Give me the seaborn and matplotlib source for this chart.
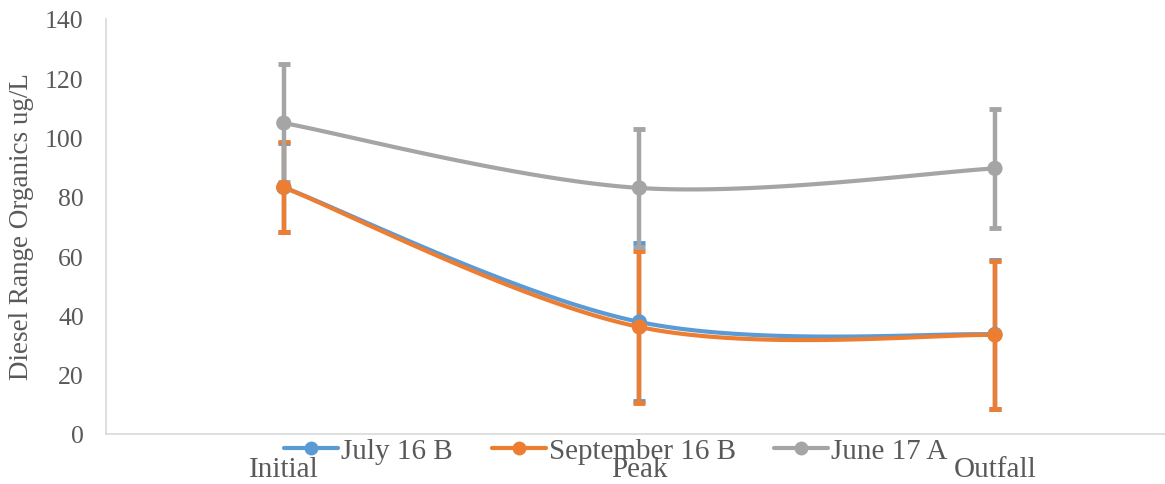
import numpy as np
import pandas as pd
import matplotlib
matplotlib.use("Agg")
import matplotlib.pyplot as plt
from matplotlib.lines import Line2D
import seaborn as sns

# Sampling locations and series values (ug/L) with their error margins
locations = ["Initial", "Peak", "Outfall"]
series_names = ["July 16 B", "September 16 B", "June 17 A"]
july16b = [83.2, 37.8, 33.6]
july16b_err = [15.0, 26.8, 25.0]
sep16b = [83.2, 36.1, 33.4]
sep16b_err = [15.2, 25.5, 24.8]
june17a = [104.9, 83.0, 89.6]
june17a_err = [20.0, 19.8, 20.0]
y_ticks = [0, 20, 40, 60, 80, 100, 120, 140]

colors = ["#5B9BD5", "#ED7D31", "#A5A5A5"]
text_color = "#595959"

sns.set_theme(style="white")
plt.rcParams["font.family"] = ["Liberation Serif", "DejaVu Serif"]


def smooth_curve(xs, ys, n=60):
    """Catmull-Rom style cubic Bezier through the points."""
    pts = np.column_stack([xs, ys]).astype(float)
    m = len(pts)
    out = []
    for i in range(m - 1):
        p0 = pts[i]
        p3 = pts[i + 1]
        prev = pts[i - 1] if i > 0 else pts[i]
        nxt = pts[i + 2] if i + 2 < m else pts[i + 1]
        p1 = p0 + (p3 - prev) / 6.0
        p2 = p3 - (nxt - p0) / 6.0
        t = np.linspace(0, 1, n)[:, None]
        seg = ((1 - t) ** 3) * p0 + 3 * ((1 - t) ** 2) * t * p1 + 3 * (1 - t) * t ** 2 * p2 + t ** 3 * p3
        if i > 0:
            seg = seg[1:]
        out.append(seg)
    out = np.vstack(out)
    return out[:, 0], out[:, 1]


fig = plt.figure(figsize=(11.65, 4.85), dpi=100)
left = 106 / 1165
bottom = 1 - 435 / 485
top = 1 - 20 / 485
ax = fig.add_axes([left, bottom, 1.0 - left, top - bottom])

x = np.arange(len(locations))
values = [july16b, sep16b, june17a]
errors = [july16b_err, sep16b_err, june17a_err]

# Error bars first so lines and markers sit on top
for vals, errs, col in zip(values, errors, colors):
    ax.errorbar(x, vals, yerr=errs, fmt="none", ecolor=col, elinewidth=3.2,
                capsize=4.5, capthick=3.5, zorder=2)

for vals, col, name in zip(values, colors, series_names):
    sx, sy = smooth_curve(x, vals)
    curve = pd.DataFrame({"x": sx, "y": sy})
    sns.lineplot(data=curve, x="x", y="y", color=col, linewidth=3.0, ax=ax,
                 sort=False, estimator=None, zorder=3)
    pts = pd.DataFrame({"x": x, "y": vals})
    sns.scatterplot(data=pts, x="x", y="y", color=col, s=120, edgecolor="none",
                    ax=ax, zorder=4)

ax.set_xlim(-0.5, (1165 - 284) / 355.5)
ax.set_ylim(0, 140)
ax.set_yticks(y_ticks)
ax.set_yticklabels([str(v) for v in y_ticks])
ax.set_xticks(x)
ax.set_xticklabels(locations)
ax.tick_params(axis="both", length=0, colors=text_color)
ax.tick_params(axis="x", pad=16, labelsize=21)
ax.tick_params(axis="y", pad=16, labelsize=18.5)
ax.set_xlabel("")
ax.set_ylabel("Diesel Range Organics ug/L", fontsize=19.5, color=text_color)
ax.yaxis.set_label_coords(-0.068, 0.503)

for side in ["top", "right"]:
    ax.spines[side].set_visible(False)
for side in ["left", "bottom"]:
    ax.spines[side].set_color("#d9d9d9")
    ax.spines[side].set_linewidth(1.2)
ax.grid(False)

handles = [Line2D([0], [0], color=c, lw=3.0, marker="o", markersize=10,
                  markeredgewidth=0) for c in colors]
leg = fig.legend(handles, series_names, loc="center",
                 bbox_to_anchor=(616 / 1165, 1 - 452 / 485), ncol=3,
                 frameon=False, fontsize=21, handlelength=1.85,
                 handletextpad=0.1, columnspacing=1.33, borderpad=0)
for t in leg.get_texts():
    t.set_color(text_color)

fig.savefig("out.png", dpi=100)
